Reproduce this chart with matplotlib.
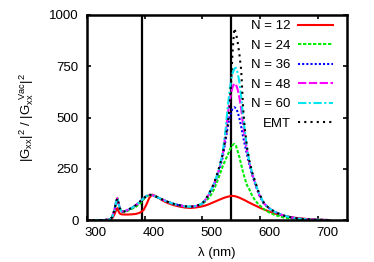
import matplotlib
matplotlib.use("Agg")
import matplotlib.pyplot as plt
from matplotlib.transforms import ScaledTranslation

# ---------------- data ----------------
wavelength = [310, 330, 340, 344, 348, 351, 353, 355, 357, 360,
              365, 370, 378, 385, 392, 398, 403, 408, 413, 420,
              430, 440, 450, 460, 470, 480, 490,
              500, 505, 510, 515, 520, 525, 530, 535, 540, 544,
              547, 550, 552, 555, 558, 561, 564, 567, 570, 573,
              577, 581, 586, 592, 598, 606, 615, 625, 640, 655,
              670, 690, 720]

# short-wavelength part shared by N >= 36 and EMT
base = [0, 0, 3, 15, 50, 92, 107, 82, 58, 43,
        42, 48, 60, 73, 90, 106, 117, 123, 122, 114,
        101, 89, 79, 72, 67, 65, 69]

# long-wavelength tail shared by N >= 36 and EMT
tail = [58, 40, 22, 12, 6, 2, 0]

n12 = [0, 0, 2, 8, 28, 50, 58, 42, 32, 28,
       27, 27, 28, 30, 36, 48, 75, 108, 124, 116,
       97, 83, 73, 66, 61, 59, 62,
       67, 71, 76, 82, 88, 94, 100, 106, 111, 114,
       116, 118, 118, 117, 115, 112, 109, 105, 101, 97,
       91, 85, 78, 70, 62, 52, 42, 32, 21, 13,
       8, 3, 0]

n24 = [0, 0, 3, 15, 50, 92, 107, 82, 58, 40,
       38, 44, 55, 65, 80, 100, 115, 122, 122, 114,
       101, 89, 79, 72, 67, 65, 69,
       79, 91, 105, 124, 150, 185, 222, 262, 295, 320,
       340, 358, 366, 371, 362, 335, 305, 270, 235, 205,
       170, 150, 118, 92, 74, 54, 38, 25, 13, 7,
       4, 1, 0]

n36 = base + [80, 98, 118, 144, 172, 210, 255, 305, 390, 460,
              505, 530, 542, 550, 545, 525, 495, 455, 410, 370,
              320, 270, 220, 168, 122, 80] + tail

n48 = base + [81, 99, 120, 146, 175, 214, 258, 320, 420, 520,
              580, 625, 648, 665, 660, 635, 595, 540, 470, 410,
              340, 280, 225, 172, 125, 82] + tail

n60 = base + [82, 100, 121, 148, 178, 218, 262, 330, 440, 560,
              630, 690, 715, 738, 742, 715, 670, 600, 510, 440,
              350, 285, 228, 175, 128, 84] + tail

emt = base + [82, 100, 122, 150, 180, 222, 268, 320, 400, 470,
              550, 700, 820, 935, 910, 865, 805, 730, 560, 450,
              355, 290, 232, 180, 130, 85] + tail

labels = ["N = 12", "N = 24", "N = 36", "N = 48", "N = 60", "EMT"]
colors = ["#ff0000", "#00ee00", "#0000ff", "#ff00ff", "#00e5ee", "#000000"]
dash_styles = [None, (1.6, 0.8), (1, 1), (4, 1.2), (4, 1.2, 1, 1.2), (1, 2)]
marker_lines = [396, 550]

# ---------------- plot ----------------
plt.rcParams['font.family'] = ['Liberation Sans', 'DejaVu Sans']
plt.rcParams['mathtext.fontset'] = 'custom'
plt.rcParams['mathtext.rm'] = 'Liberation Sans'
plt.rcParams['mathtext.it'] = 'Liberation Sans'

fig = plt.figure(figsize=(3.74, 2.62), dpi=100)
ax = fig.add_axes([0.232, 0.160, 0.696, 0.783])

for x in marker_lines:
    ax.axvline(x, color="black", lw=1.6, zorder=1)

series = [n12, n24, n36, n48, n60, emt]
for ys, lab, col, ds in zip(series, labels, colors, dash_styles):
    line, = ax.plot(wavelength, ys, color=col, lw=1.5, label=lab, zorder=2)
    if ds is not None:
        line.set_dashes(ds)

ax.set_xlim(300, 750)
ax.set_ylim(0, 1000)
ax.set_xticks([300, 400, 500, 600, 700])
ax.set_yticks([0, 250, 500, 750, 1000])
ax.tick_params(direction="in", length=3, width=1.2, top=True, right=True,
               labelsize=9.5)
ax.tick_params(axis="x", pad=5)
ax.tick_params(axis="y", pad=6)
# gnuplot-style x labels sit a bit to the right of their ticks
shift = ScaledTranslation(0.09, 0, fig.dpi_scale_trans)
for lbl in ax.get_xticklabels():
    lbl.set_transform(lbl.get_transform() + shift)
for sp in ax.spines.values():
    sp.set_linewidth(1.8)

ax.set_xlabel("λ (nm)", fontsize=9.5, labelpad=6)
ax.set_ylabel(r"$\mathregular{|G_{xx}|^2\ /\ |G_{xx}^{\ \ Vac}|^2}$", fontsize=9.5, labelpad=9)

ax.legend(loc="upper right", bbox_to_anchor=(0.945, 0.975), frameon=False,
          markerfirst=False, fontsize=9.5, handlelength=2.6, handletextpad=0.6,
          labelspacing=0.55, borderaxespad=0, borderpad=0)

fig.savefig("out.png", dpi=100)
